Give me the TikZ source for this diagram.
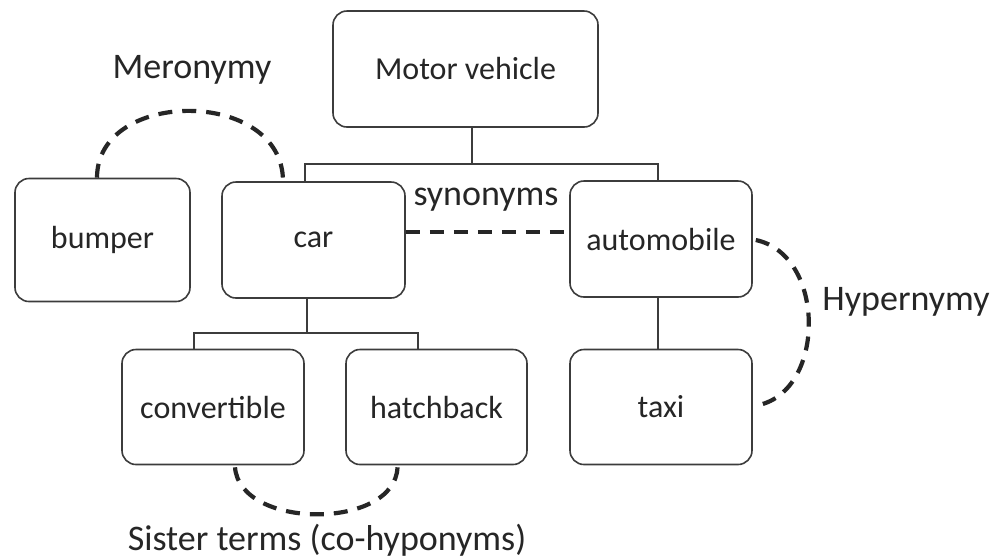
\documentclass[tikz,border=0pt]{standalone}
\usepackage{fontspec}
\setmainfont{Carlito}
\definecolor{ink}{HTML}{262626}
\definecolor{edge}{HTML}{3C3C3C}
\begin{document}
\begin{tikzpicture}[x=1pt,y=-1pt,
  box/.style={draw=edge,line width=1.6pt,rounded corners=14pt,fill=white,
    text=ink,font=\fontsize{32}{36}\selectfont,inner sep=0pt},
  tree/.style={draw=edge,line width=1.5pt},
  rel/.style={draw=ink,line width=4.2pt,dash pattern=on 14pt off 10pt},
  lbl/.style={text=ink,font=\fontsize{36}{40}\selectfont,inner sep=0pt}]
\useasboundingbox[fill=white] (0,0) rectangle (995,558);
\node[box,minimum width=265pt,minimum height=116pt] (mv) at (465.5,69) {Motor vehicle};
\node[box,minimum width=175pt,minimum height=123pt] (bumper) at (102.5,240) {bumper};
\node[box,minimum width=183pt,minimum height=116pt] (car) at (313.5,240) {car};
\node[box,minimum width=182pt,minimum height=116pt] (auto) at (661,239) {automobile};
\node[box,minimum width=182pt,minimum height=115pt] (conv) at (213,407) {convertible};
\node[box,minimum width=181pt,minimum height=115pt] (hatch) at (436.5,407) {hatchback};
\node[box,minimum width=182pt,minimum height=115pt] (taxi) at (661,407) {taxi};
% tree
\draw[tree] ([xshift=6.5pt]mv.south) -- ++(0,36) coordinate (b1);
\draw[tree] ([xshift=-8.5pt]car.north) |- (b1) -| ([xshift=-3pt]auto.north);
\draw[tree] ([xshift=-6.5pt]car.south) -- ++(0,34) coordinate (b2);
\draw[tree] ([xshift=-19pt]conv.north) |- (b2) -| ([xshift=-18.5pt]hatch.north);
\draw[tree] ([xshift=-3pt]auto.south) -- ([xshift=-3pt]taxi.north);
% relations
\coordinate (m1) at ([xshift=-5.5pt]bumper.north);
\coordinate (m2) at ([xshift=-30.5pt]car.north);
\draw[rel] (m1) .. controls (97,88) and (283,88) .. (m2);
\draw[rel] ([yshift=8pt]car.east) -- ([yshift=7pt]auto.west);
\coordinate (h1) at ([yshift=-1pt,xshift=3pt]auto.east);
\coordinate (h2) at ([yshift=2pt,xshift=6pt]taxi.east);
\draw[rel] (h1) .. controls (826,255) and (826,390) .. (h2);
\coordinate (s1) at ([xshift=22pt,yshift=-2pt]conv.south);
\coordinate (s2) at ([xshift=-39pt,yshift=-2pt]hatch.south);
\draw[rel] (s1) .. controls (240,530) and (395,530) .. (s2);
% labels
\node[lbl] (lmer) at (192,70) {Meronymy};
\node[lbl] (lsyn) at (486,200) {synonyms};
\node[lbl] (lhyp) at (906,302) {Hypernymy};
\node[lbl] (lsis) at (327,540) {Sister terms (co-hyponyms)};
\end{tikzpicture}
\end{document}
